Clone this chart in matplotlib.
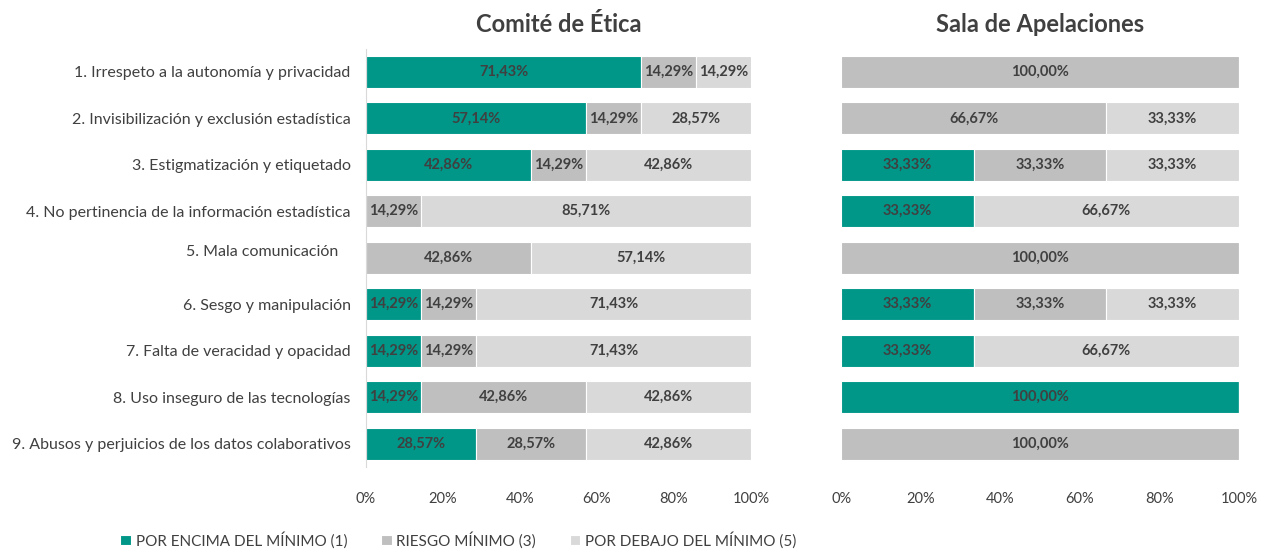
import matplotlib.pyplot as plt
import numpy as np

plt.rcParams['font.family'] = ['Lato', 'DejaVu Sans']

categorias = [
    "1. Irrespeto a la autonomía y privacidad",
    "2. Invisibilización y exclusión estadística",
    "3. Estigmatización y etiquetado",
    "4. No pertinencia de la información estadística",
    "5. Mala comunicación   \n",
    "6. Sesgo y manipulación",
    "7. Falta de veracidad y opacidad",
    "8. Uso inseguro de las tecnologías",
    "9. Abusos y perjuicios de los datos colaborativos",
]
series = ["POR ENCIMA DEL MÍNIMO (1)", "RIESGO MÍNIMO (3)", "POR DEBAJO DEL MÍNIMO (5)"]

# Comité de Ética
etica_encima = [71.43, 57.14, 42.86, 0, 0, 14.29, 14.29, 14.29, 28.57]
etica_riesgo = [14.29, 14.29, 14.29, 14.29, 42.86, 14.29, 14.29, 42.86, 28.57]
etica_debajo = [14.29, 28.57, 42.86, 85.71, 57.14, 71.43, 71.43, 42.86, 42.86]

# Sala de Apelaciones
sala_encima = [0, 0, 33.33, 33.33, 0, 33.33, 33.33, 100, 0]
sala_riesgo = [100, 66.67, 33.33, 0, 100, 33.33, 0, 0, 100]
sala_debajo = [0, 33.33, 33.33, 66.67, 0, 33.33, 66.67, 0, 0]

colores = ["#009688", "#BFBFBF", "#D9D9D9"]
texto = "#404040"

fig = plt.figure(figsize=(12.73, 5.52), dpi=100)
ax1 = fig.add_axes([0.2875, 0.154, 0.3025, 0.758])
ax2 = fig.add_axes([0.6607, 0.154, 0.3126, 0.758])


def dibujar(ax, datos, titulo):
    y = np.arange(len(categorias))
    izq = np.zeros(len(categorias))
    for vals, col, nombre in zip(datos, colores, series):
        vals = np.array(vals)
        bars = ax.barh(y, vals, left=izq, height=0.69, color=col,
                       edgecolor="white", linewidth=0.8, label=nombre)
        for b, v in zip(bars, vals):
            if v > 0:
                ax.text(b.get_x() + b.get_width() / 2, b.get_y() + b.get_height() / 2,
                        f"{v:.2f}%".replace(".", ","), ha="center", va="center",
                        fontsize=10.5, color=texto, fontweight="bold")
        izq += vals
    ax.set_xlim(0, 100)
    ax.set_ylim(len(categorias) - 0.5, -0.5)
    ax.set_xticks(range(0, 101, 20))
    ax.set_xticklabels([f"{t}%" for t in range(0, 101, 20)])
    ax.tick_params(axis="x", length=0, labelsize=10.5, labelcolor=texto, pad=18)
    ax.tick_params(axis="y", length=0, labelsize=11.5, labelcolor=texto, pad=11)
    for s in ax.spines.values():
        s.set_visible(False)
    ax.set_title(titulo, fontsize=17, fontweight="bold", color=texto, pad=12)


dibujar(ax1, [etica_encima, etica_riesgo, etica_debajo], "Comité de Ética")
ax1.set_yticks(np.arange(len(categorias)))
ax1.set_yticklabels(categorias)
ax1.spines["left"].set_visible(True)
ax1.spines["left"].set_color("#D9D9D9")

dibujar(ax2, [sala_encima, sala_riesgo, sala_debajo], "Sala de Apelaciones")
ax2.set_yticks([])

handles, labels = ax1.get_legend_handles_labels()
fig.legend(handles, labels, loc="center", bbox_to_anchor=(0.36, 0.022), ncol=3,
           frameon=False, fontsize=11, labelcolor=texto, handlelength=0.7,
           handleheight=0.7, columnspacing=2.2, handletextpad=0.3)

fig.savefig("out.png", dpi=100)
